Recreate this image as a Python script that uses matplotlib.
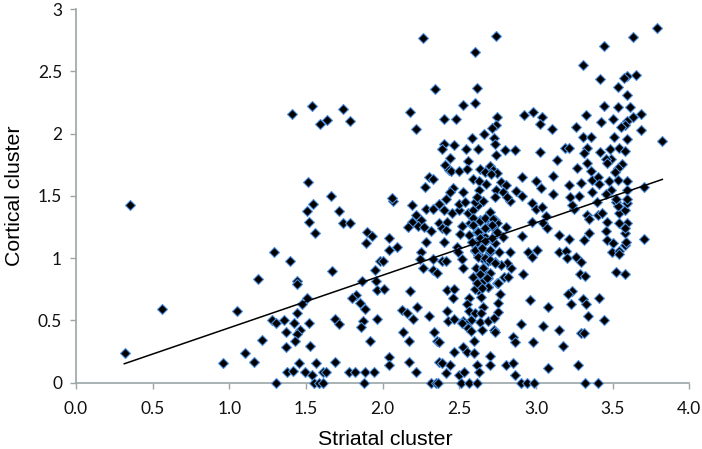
import matplotlib
matplotlib.use("Agg")
import matplotlib.pyplot as plt

# values, left part first
x_left = [1.41, 1.54, 1.59, 1.64, 1.74, 1.79, 1.51, 1.665, .354, 1.504, 1.543, 1.715, 1.74, 1.787, 1.52, 1.56,
          1.90, 1.928, 1.89, 1.98, 1.293, 1.396, 1.672, 1.95, 1.187, 1.441, 1.441, 1.867, 1.957, 1.961, 1.826, 1.80,
          1.509, 1.476, 1.854, 1.885, .559, 1.05, 1.441, 1.28, 1.304, 1.357, 1.424, 1.52, 1.689, 1.717, 1.872, 1.961,
          1.857, 1.37, 1.459, 1.441, 1.43, 1.215, 1.917, 1.367, 1.524, .317, 1.10, .957, 1.159, 1.454, 1.563, 1.687,
          1.374, 1.415, 1.493, 1.539, 1.613, 1.63, 1.778, 1.82, 1.887, 1.941, 1.307, 1.554, 1.585, 1.613, 1.88]
y_left = [2.156, 2.22, 2.076, 2.105, 2.20, 2.10, 1.613, 1.498, 1.426, 1.38, 1.431, 1.38, 1.284, 1.284, 1.287, 1.198,
          1.212, 1.18, 1.124, .98, 1.049, .979, .896, .907, .829, .819, .789, .819, .819, .744, .706, .677,
          .677, .629, .637, .594, .591, .578, .562, .503, .482, .503, .476, .479, .508, .468, .492, .508,
          .444, .409, .423, .388, .337, .34, .337, .284, .294, .241, .241, .161, .163, .161, .161, .163,
          .083, .094, .083, .059, .083, .083, .083, .083, .083, .083, 0, 0, 0, 0, 0]

# lower right part, below cortical 1.46
x_low = [2.065, 2.189, 2.285, 2.326, 2.37, 2.40, 2.45, 2.498, 2.498, 2.537, 2.217, 2.25, 2.189, 2.167, 2.233, 2.27,
         2.313, 2.37, 2.417, 2.385, 2.411, 2.52, 2.504, 2.041, 2.041, 2.096, 2.0, 2.283, 2.40, 2.25, 2.243, 2.326,
         2.385, 2.411, 2.485, 2.494, 2.515, 2.261, 2.326, 2.357, 2.526, 2.011, 2.181, 2.422, 2.465, 2.461, 2.124, 2.161,
         2.226, 2.196, 2.30, 2.422, 2.429, 2.465, 2.13, 2.174, 2.337, 2.352, 2.37, 2.465, 2.044, 2.044, 2.174, 2.37,
         2.39, 2.44, 2.215, 2.413, 2.498, 2.533, 2.313, 2.348, 2.363, 2.509, 2.565, 2.613, 2.522, 2.552, 2.596, 2.596,
         2.70, 2.70, 2.617, 2.63, 2.802, 2.848, 2.863, 3.08, 3.272, 2.904, 2.939, 2.989, 3.32, 3.407,
         2.563, 2.552, 2.563, 2.602, 2.657, 2.641, 2.639, 2.635, 2.574, 2.526, 2.543, 2.515, 2.559, 2.574, 2.646, 2.689,
         2.726, 2.754, 2.754, 2.765, 2.748, 2.689, 2.624, 2.602, 2.624, 2.591, 2.607, 2.657, 2.67, 2.689, 2.646, 2.791,
         2.82, 2.835, 2.809, 2.769, 2.733, 2.689, 2.70, 2.759, 2.83, 2.624, 2.602, 2.624, 2.646, 2.733, 2.681, 2.618,
         2.581, 2.635, 2.744, 2.783, 2.804, 2.613, 2.565, 2.57, 2.596, 2.559, 2.591, 2.624, 2.602, 2.657, 2.635, 2.678,
         2.70, 2.733, 2.689, 2.748, 2.739, 2.67, 2.722, 2.83, 2.911, 2.972, 2.976, 2.998, 3.04, 3.063, 3.048, 3.074,
         3.148, 3.218, 3.313, 3.348, 3.248, 3.233, 3.33, 3.348, 3.407, 3.43, 3.40, 3.461, 3.454, 3.461, 3.50, 3.496,
         3.541, 3.541, 3.578, 3.587, 3.581, 3.596, 3.541, 3.581, 3.541, 3.578, 3.596, 3.52, 3.535, 3.704, 3.52, 3.578,
         2.95, 3.009, 2.976, 3.152, 3.196, 3.2, 3.259, 3.294, 2.917, 3.287, 3.317, 3.233, 3.211, 3.411, 3.309, 3.326,
         3.228, 2.961, 3.08, 3.341, 3.446, 2.90, 3.048, 3.15, 3.296, 3.315, 2.848, 2.863, 2.983, 3.178, 2.726, 2.733]
y_low = [1.46, 1.426, 1.394, 1.391, 1.434, 1.386, 1.359, 1.386, 1.434, 1.453, 1.346, 1.306, 1.292, 1.247, 1.257, 1.247,
         1.22, 1.279, 1.292, 1.239, 1.225, 1.26, 1.19, 1.158, 1.065, 1.086, .976, 1.126, 1.126, 1.046, .99, .99,
         .979, .979, 1.09, 1.046, .993, .918, .904, .877, .918, .752, .736, .744, .752, .677, .583, .562,
         .61, .508, .535, .572, .498, .508, .404, .334, .404, .337, .329, .246, .203, .142, .163, .169,
         .161, .142, .083, .075, .062, .083, 0, 0, 0, 0, 0, 0, .284, .246, .241, .337,
         .214, .142, .142, .083, .142, .161, .062, .118, .142, 0, 0, 0, 0, 0,
         .677, .631, .578, .562, .61, .562, .69, .49, .503, .498, .471, .482, .436, .417, .423, .498,
         .516, .57, .637, .709, .797, .765, .744, .752, .797, .851, .918, .918, .872, .837, .81, .851,
         .845, .918, .963, .944, .966, .979, 1.051, 1.051, 1.051, 1.078, 1.059, 1.025, .998, 1.118, 1.145, 1.132,
         1.132, 1.185, 1.198, 1.172, 1.252, 1.212, 1.185, 1.279, 1.306, 1.359, 1.386, 1.426, 1.453, 1.458, 1.306, 1.319,
         1.372, 1.306, 1.252, 1.284, 1.198, 1.172, 1.252, 1.458, 1.18, 1.287, 1.439, 1.391, 1.413, 1.338, 1.279, 1.239,
         1.185, 1.153, 1.145, 1.198, 1.391, 1.426, 1.346, 1.314, 1.346, 1.364, 1.453, 1.292, 1.22, 1.145, 1.118, 1.051,
         1.059, 1.033, 1.105, 1.132, 1.198, 1.279, 1.284, 1.239, 1.364, 1.386, 1.439, 1.453, 1.418, 1.153, .891, .872,
         1.051, 1.065, 1.011, 1.046, 1.059, .998, 1.011, .971, .872, .872, .859, .738, .712, .677, .669, .631,
         .631, .663, .61, .535, .503, .471, .457, .423, .396, .396, .369, .324, .324, .297, .423, .404]

# upper right part
x_high = [2.261, 2.74, 2.602, 3.787, 3.633, 3.446, 3.309, 3.416, 3.591, 3.576, 3.652, 3.537, 3.596, 2.344, 2.617, 2.524,
          2.602, 2.181, 2.215, 2.402, 2.476, 2.744, 2.742, 2.711, 2.924, 2.98, 3.037, 3.028, 3.103, 3.259, 3.326, 3.424,
          3.441, 3.537, 3.613, 3.687, 3.633, 3.594, 3.581, 3.552, 3.5, 3.685, 3.509, 3.596, 3.82, 3.309, 3.361, 2.585,
          2.659, 2.726, 2.73, 2.398, 2.467, 2.385, 2.544, 2.62, 2.798, 2.865, 2.737, 3.026, 3.189, 3.213, 3.33, 3.311,
          3.417, 3.483, 3.539, 3.581, 3.491, 3.454, 3.465, 3.559, 3.537, 3.517, 3.33, 3.357, 3.27, 3.135, 3.111, 2.911,
          2.441, 2.559, 2.405, 2.431, 2.448, 2.5, 2.552, 2.635, 2.7, 2.717, 2.744, 2.67, 2.709, 2.302, 2.328, 2.276,
          2.457, 2.441, 2.522, 2.587, 2.63, 2.674, 2.769, 2.806, 2.737, 2.63, 2.787, 2.87, 2.617, 2.73, 2.809, 2.909,
          2.063, 2.413, 3.0, 3.03, 3.113, 3.213, 3.296, 3.365, 3.404, 3.411, 3.474, 3.537, 3.596, 3.487, 3.454, 3.365,
          3.591, 3.704, 3.222, 3.283, 3.522, 3.591]
y_high = [2.769, 2.782, 2.656, 2.844, 2.777, 2.702, 2.55, 2.44, 2.461, 2.45, 2.472, 2.376, 2.306, 2.354, 2.362, 2.228,
          2.245, 2.172, 2.033, 2.116, 2.116, 2.137, 2.068, 2.041, 2.151, 2.172, 2.135, 2.073, 2.033, 2.052, 2.151, 2.095,
          2.218, 2.212, 2.212, 2.159, 2.132, 2.1, 2.068, 2.052, 2.119, 2.028, 1.972, 1.958, 1.94, 1.972, 1.972, 1.961,
          1.993, 1.966, 1.913, 1.913, 1.907, 1.878, 1.878, 1.873, 1.865, 1.865, 1.827, 1.851, 1.883, 1.886, 1.881, 1.841,
          1.851, 1.878, 1.883, 1.857, 1.798, 1.798, 1.763, 1.752, 1.72, 1.693, 1.763, 1.701, 1.72, 1.784, 1.656, 1.653,
          1.803, 1.779, 1.75, 1.707, 1.701, 1.696, 1.717, 1.715, 1.739, 1.707, 1.685, 1.693, 1.675, 1.653, 1.632, 1.573,
          1.562, 1.533, 1.528, 1.632, 1.621, 1.594, 1.608, 1.586, 1.546, 1.544, 1.528, 1.541, 1.493, 1.493, 1.487, 1.495,
          1.485, 1.477, 1.621, 1.56, 1.514, 1.589, 1.605, 1.627, 1.653, 1.597, 1.621, 1.624, 1.619, 1.546, 1.514, 1.528,
          1.546, 1.573, 1.493, 1.498, 1.477, 1.477]

x_dense = [2.587, 2.635, 2.668, 2.722, 2.592, 2.624, 2.668, 2.711, 2.744, 2.581, 2.635, 2.668, 2.711, 2.602, 2.646,
           2.70, 2.624, 2.668, 2.70, 2.733, 2.657, 2.70, 2.635, 2.678, 2.615, 2.689, 2.754, 2.646]
y_dense = [1.319, 1.30, 1.319, 1.312, 1.266, 1.212, 1.239, 1.266, 1.212, 1.13, 1.159, 1.14, 1.159, 1.065, 1.078,
           1.065, 1.011, .998, .985, .958, .918, .878, .873, .839, .798, .765, .798, .757]

trend_x = [0.315, 3.824]
trend_y = [0.152, 1.632]

x_ticks = [0.0, 0.5, 1.0, 1.5, 2.0, 2.5, 3.0, 3.5, 4.0]
x_labels = ["0.0", "0.5", "1.0", "1.5", "2.0", "2.5", "3.0", "3.5", "4.0"]
y_ticks = [0, 0.5, 1, 1.5, 2, 2.5, 3]
y_labels = ["0", "0.5", "1", "1.5", "2", "2.5", "3"]

fig = plt.figure(figsize=(7.02, 4.49), dpi=100)
ax = fig.add_axes([76 / 702, 66.3 / 449, 613.3 / 702, 373.7 / 449])

ax.plot(x_left + x_low + x_high + x_dense, y_left + y_low + y_high + y_dense, linestyle="none", marker="D", ms=4.6,
        mfc="black", mec="#4f8fdc", mew=0.8, clip_on=False, zorder=3)
ax.plot(trend_x, trend_y, color="black", lw=1.1, zorder=4)

ax.set_xlim(0, 4)
ax.set_ylim(0, 3)
ax.set_xticks(x_ticks, x_labels, family="Lato", fontsize=12.5, color="#111111")
ax.set_yticks(y_ticks, y_labels, family="Lato", fontsize=12.5, color="#111111")
ax.tick_params(length=4, width=1, color="#9aa5a5")
ax.tick_params(axis="x", pad=9)
ax.tick_params(axis="y", pad=6)
for side in ["top", "right"]:
    ax.spines[side].set_visible(False)
for side in ["left", "bottom"]:
    ax.spines[side].set_color("#9aa5a5")
    ax.spines[side].set_linewidth(1.2)

ax.set_xlabel("Striatal cluster", family="Liberation Sans", fontsize=15.3, labelpad=9.5, x=0.504)
ax.set_ylabel("Cortical cluster", family="Liberation Sans", fontsize=15.3, labelpad=10)

fig.savefig("out.png", dpi=100)
